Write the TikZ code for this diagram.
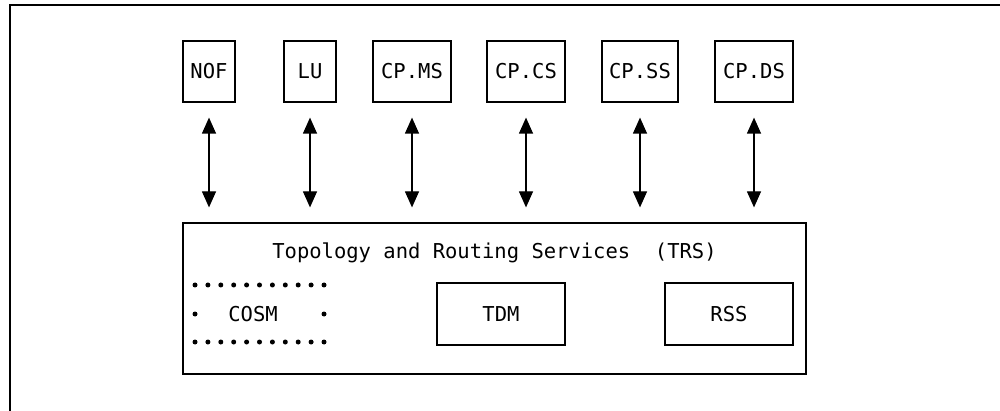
\documentclass[tikz,border=0pt]{standalone}
\usepackage{fontspec}
\newfontfamily\diamono{DejaVu Sans Mono}
\usetikzlibrary{arrows.meta}
\begin{document}
\begin{tikzpicture}[x=1pt,y=-1pt,
  txt/.style={font=\diamono\fontsize{20.5}{24}\selectfont, inner sep=0pt},
  topbox/.style={txt, draw, line width=1.2pt, minimum height=61pt},
  subbox/.style={txt, draw, line width=1.2pt, minimum width=128pt, minimum height=62pt},
  conn/.style={line width=1.2pt, {Triangle[width=14pt,length=16pt]}-{Triangle[width=14pt,length=16pt]}, shorten <=15pt, shorten >=15pt},
  cdot/.style={fill=black, draw=none}]
\useasboundingbox (0,0) rectangle (1000,411);
\draw[line width=1.5pt] (10,411) -- (10,5) -- (1000,5);

\node[topbox, minimum width=52pt] (nof) at (209,71.5) {NOF};
\node[topbox, minimum width=52pt] (lu) at (310,71.5) {LU};
\node[topbox, minimum width=78pt] (cpms) at (412,71.5) {CP.MS};
\node[topbox, minimum width=78pt] (cpcs) at (526,71.5) {CP.CS};
\node[topbox, minimum width=76pt] (cpss) at (640,71.5) {CP.SS};
\node[topbox, minimum width=78pt] (cpds) at (754,71.5) {CP.DS};

\node[draw, line width=1.2pt, minimum width=623pt, minimum height=151pt, inner sep=0pt] (trs) at (494.5,298.5) {};
\node[txt] (title) at (494.5,253) {Topology and Routing Services\ \ (TRS)};
\node[subbox] (tdm) at (501,314) {TDM};
\node[subbox] (rss) at (729,314) {RSS};
\node[txt] (cosm) at (253,314) {COSM};
\foreach \i in {0,...,10} {
  \fill[cdot] (195+12.9*\i,285) circle (2.5pt);
  \fill[cdot] (195+12.9*\i,342) circle (2.5pt);
}
\fill[cdot] (195,314) circle (2.5pt);
\fill[cdot] (324,314) circle (2.5pt);

\foreach \n in {nof,lu,cpms,cpcs,cpss,cpds} {
  \draw[conn] (\n.south) -- (\n.south |- trs.north);
}
\end{tikzpicture}
\end{document}
